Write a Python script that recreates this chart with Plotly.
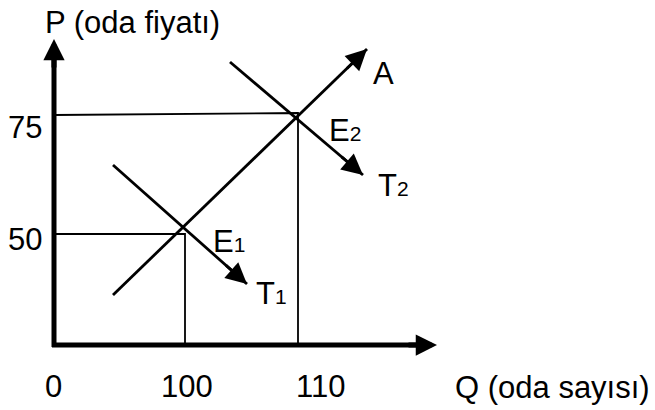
import plotly.graph_objects as go
import numpy as np

# Schematic diagram coordinates (origin at axes corner)
supply_A_q = [59, 313]
supply_A_p = [50, 296]
demand_T1_q = [59, 193]
demand_T1_p = [180, 61]
demand_T2_q = [176, 309]
demand_T2_p = [283, 170]

# equilibrium guide positions (schematic)
e1_q, e1_p = 131, 111
e2_q, e2_p0, e2_p1 = 244, 230, 232

q_labels = ["0", "100", "110"]
p_labels = ["50", "75"]

FONT = "Liberation Sans, Arial, sans-serif"
FS = 31

fig = go.Figure()

def line(xs, ys, w):
    fig.add_trace(go.Scatter(x=xs, y=ys, mode="lines",
                             line=dict(color="black", width=w),
                             hoverinfo="skip", showlegend=False))

# guides
line([0, e1_q, e1_q], [e1_p, e1_p, 0], 1.8)
line([0, e2_q, e2_q], [e2_p0, e2_p1, 0], 1.8)

# curves
line(supply_A_q, supply_A_p, 2.8)
line(demand_T1_q, demand_T1_p, 2.8)
line(demand_T2_q, demand_T2_p, 2.8)

# axes
line([0, 0], [-2, 300], 5)
line([-2, 376], [0, 0], 5)

ann = []

def arrow(xs, ys, w, size, back=30):
    x0, x1 = xs
    y0, y1 = ys
    d = np.array([x1 - x0, y1 - y0], dtype=float)
    d /= np.linalg.norm(d)
    ann.append(dict(x=x1, y=y1, ax=x1 - back * d[0], ay=y1 - back * d[1],
                    xref="x", yref="y", axref="x", ayref="y", text="",
                    showarrow=True, arrowhead=2, arrowsize=size,
                    arrowwidth=w, arrowcolor="black", standoff=0))

arrow(supply_A_q, supply_A_p, 2.8, 1.5)
arrow(demand_T1_q, demand_T1_p, 2.8, 1.5)
arrow(demand_T2_q, demand_T2_p, 2.8, 1.5)
arrow([0, 0], [-2, 306], 5, 0.85)
arrow([-2, 383], [0, 0], 5, 0.85)

def label(x, y, t, xanchor="center"):
    ann.append(dict(x=x, y=y, xref="x", yref="y", text=t, showarrow=False,
                    xanchor=xanchor, yanchor="middle",
                    font=dict(family=FONT, size=FS, color="black")))

label(78, 323, "P (oda fiyatı)")
label(498, -42, "Q (oda sayısı)")
label(-1, -41, q_labels[0])
label(133, -41, q_labels[1])
label(266, -41, q_labels[2])
label(-29, 106, p_labels[0])
label(-29, 218, p_labels[1])
label(329, 272, "A")
sub = "<span style='font-size:21px'>%s</span>"
label(273, 215, "E" + sub % "2", "left")
label(322, 160, "T" + sub % "2", "left")
label(157, 104, "E" + sub % "1", "left")
label(200, 52, "T" + sub % "1", "left")

fig.update_layout(
    width=655, height=410,
    margin=dict(l=0, r=0, t=0, b=0),
    paper_bgcolor="white", plot_bgcolor="white",
    xaxis=dict(range=[-54, 601], visible=False, fixedrange=True),
    yaxis=dict(range=[-65, 345], visible=False, fixedrange=True),
    annotations=ann,
    font=dict(family=FONT),
)

fig.write_html("out.html", config={"displayModeBar": False},
               post_script="document.body.style.margin='0';document.body.style.overflow='hidden';")
